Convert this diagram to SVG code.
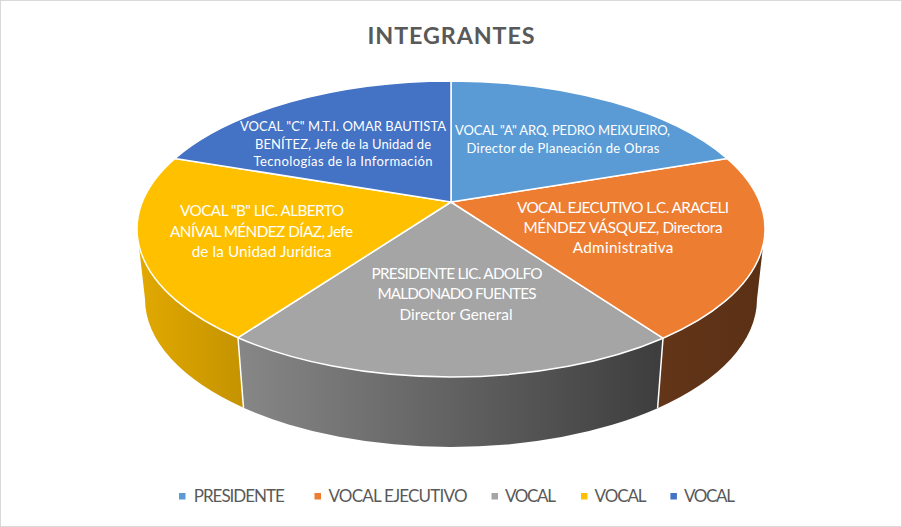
<svg xmlns="http://www.w3.org/2000/svg" width="902" height="527" viewBox="0 0 902 527">
<style>
.top{stroke:#FFFFFF;stroke-width:1.5;stroke-linejoin:round}
.sep{stroke:#FFFFFF;stroke-width:1.5}
.lbl{font-family:Lato,"Liberation Sans",sans-serif;fill:#FFFFFF;text-anchor:middle}
.sm{font-size:13px}
.lg{font-size:15.3px}
.leg{font-family:Lato,"Liberation Sans",sans-serif;font-size:17px;fill:#595959}
.title{font-family:Lato,"Liberation Sans",sans-serif;font-size:23.3px;font-weight:bold;fill:#595959;text-anchor:middle}
</style>
<defs>
<linearGradient id="gGray" gradientUnits="userSpaceOnUse" x1="243" y1="0" x2="658" y2="0">
<stop offset="0" stop-color="#868686"/>
<stop offset="1" stop-color="#3E3E3E"/>
</linearGradient>
<linearGradient id="gYel" gradientUnits="userSpaceOnUse" x1="137" y1="0" x2="243" y2="0">
<stop offset="0" stop-color="#E2A900"/>
<stop offset="1" stop-color="#C49300"/>
</linearGradient>
<linearGradient id="gOr" gradientUnits="userSpaceOnUse" x1="658" y1="0" x2="765" y2="0">
<stop offset="0" stop-color="#633519"/>
<stop offset="1" stop-color="#5A3014"/>
</linearGradient>
</defs>
<rect x="0.5" y="0.5" width="901" height="526" fill="#FFFFFF" stroke="#D9D9D9" stroke-width="1"/>
<text class="title" x="451" y="44.3" textLength="167">INTEGRANTES</text>

<g id="sides">
<path d="M765,229 A314,148 0 0 1 663,338.2 L657.6,408.2 A306,148 0 0 0 757,299 Z" fill="url(#gOr)"/>
<path d="M663,338.2 A314,148 0 0 1 238,337.7 L243.5,407.7 A306,148 0 0 0 657.6,408.2 Z" fill="url(#gGray)"/>
<path d="M238,337.7 A314,148 0 0 1 137,229 L145,299 A306,148 0 0 0 243.5,407.7 Z" fill="url(#gYel)"/>
</g>
<g id="connectors">
<line class="sep" x1="663" y1="338.2" x2="657.6" y2="408.2"/>
<line class="sep" x1="238" y1="337.7" x2="243.5" y2="407.7"/>
</g>

<g id="presidente">
<path class="top" d="M451,202 L663,338.2 A314,148 0 0 1 238,337.7 Z" fill="#A5A5A5"/>
<text class="lbl lg" x="457" y="279.3" textLength="171">PRESIDENTE LIC. ADOLFO</text>
<text class="lbl lg" x="457" y="299.3" textLength="159">MALDONADO FUENTES</text>
<text class="lbl lg" x="456" y="320" textLength="113">Director General</text>
</g>
<g id="vocal-ejecutivo">
<path class="top" d="M451,202 L727,158.4 A314,148 0 0 1 663,338.2 Z" fill="#ED7D31"/>
<text class="lbl lg" x="623" y="213.3" textLength="212">VOCAL EJECUTIVO L.C. ARACELI</text>
<text class="lbl lg" x="623" y="233" textLength="199">MÉNDEZ VÁSQUEZ, Directora</text>
<text class="lbl lg" x="623" y="253.3" textLength="100.6">Administrativa</text>
</g>
<g id="vocal-a">
<path class="top" d="M451,202 L451,81 A314,148 0 0 1 727,158.4 Z" fill="#5B9BD5"/>
<text class="lbl sm" x="562.5" y="135" textLength="215">VOCAL "A" ARQ. PEDRO MEIXUEIRO,</text>
<text class="lbl sm" x="563" y="152.5" textLength="193">Director de Planeación de Obras</text>
</g>
<g id="vocal-b">
<path class="top" d="M451,202 L238,337.7 A314,148 0 0 1 175,158.4 Z" fill="#FFC000"/>
<text class="lbl lg" x="262" y="216" textLength="164">VOCAL "B" LIC. ALBERTO</text>
<text class="lbl lg" x="261.5" y="236.5" textLength="183">ANÍVAL MÉNDEZ DÍAZ, Jefe</text>
<text class="lbl lg" x="261.7" y="257" textLength="140">de la Unidad Jurídica</text>
</g>
<g id="vocal-c">
<path class="top" d="M451,202 L175,158.4 A314,148 0 0 1 451,81 Z" fill="#4472C4"/>
<text class="lbl sm" x="343" y="131" textLength="206">VOCAL "C" M.T.I. OMAR BAUTISTA</text>
<text class="lbl sm" x="343" y="148.5" textLength="176">BENÍTEZ, Jefe de la Unidad de</text>
<text class="lbl sm" x="343" y="166" textLength="179">Tecnologías de la Información</text>
</g>

<g id="legend">
<rect x="179" y="493" width="6.5" height="6.5" fill="#5B9BD5"/>
<text class="leg" x="193.8" y="501.7" textLength="91">PRESIDENTE</text>
<rect x="314.5" y="493" width="6.5" height="6.5" fill="#ED7D31"/>
<text class="leg" x="328.5" y="501.7" textLength="139">VOCAL EJECUTIVO</text>
<rect x="491.5" y="493" width="6.5" height="6.5" fill="#A5A5A5"/>
<text class="leg" x="505" y="501.7" textLength="51">VOCAL</text>
<rect x="581" y="493" width="6.5" height="6.5" fill="#FFC000"/>
<text class="leg" x="594.6" y="501.7" textLength="52">VOCAL</text>
<rect x="670.4" y="493" width="6.5" height="6.5" fill="#4472C4"/>
<text class="leg" x="684" y="501.7" textLength="51">VOCAL</text>
</g>
</svg>
